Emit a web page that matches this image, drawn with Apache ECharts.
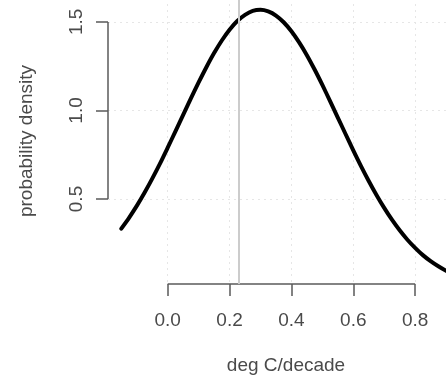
<!DOCTYPE html>
<html>
<head>
<meta charset="utf-8">
<script src="https://cdn.jsdelivr.net/npm/echarts@6/dist/echarts.min.js"></script>
<style>html,body{margin:0;padding:0;background:#fff}#c{width:446px;height:379px}</style>
</head>
<body>
<div id="c"></div>
<script>
// data
var xValues = [-0.150,-0.125,-0.100,-0.075,-0.050,-0.025,0.000,0.025,0.050,0.075,0.100,0.125,0.150,0.175,0.200,0.225,0.250,0.275,0.300,0.325,0.350,0.375,0.400,0.425,0.450,0.475,0.500,0.525,0.550,0.575,0.600,0.625,0.650,0.675,0.700,0.725,0.750,0.775,0.800,0.825,0.850,0.875,0.900,0.925,0.950];
var density = [0.333,0.394,0.461,0.535,0.615,0.700,0.790,0.882,0.975,1.068,1.158,1.244,1.324,1.395,1.456,1.505,1.540,1.562,1.568,1.559,1.536,1.498,1.447,1.384,1.312,1.231,1.144,1.053,0.960,0.867,0.775,0.686,0.602,0.523,0.450,0.383,0.323,0.270,0.224,0.183,0.149,0.120,0.095,0.075,0.059];
var xTicks = [0.0,0.2,0.4,0.6,0.8];
var yTicks = [0.5,1.0,1.5];
var refLine = 0.227;
var xLabel = 'deg C/decade';
var yLabel = 'probability density';

var xMin = -0.193, xMax = 0.958, yMin = 0.02, yMax = 1.635;
var axisColor = '#5a5a5a', textColor = '#4a4a4a', font = 'Liberation Sans, Arial, sans-serif';

var chart = echarts.init(document.getElementById('c'));
chart.setOption({
  animation: false,
  grid: {left: 108, width: 356, top: -2, bottom: 95, containLabel: false, outerBoundsMode: 'none'},
  xAxis: {
    type: 'value', min: xMin, max: xMax,
    axisLine: {show: false, onZero: false},
    axisTick: {show: true, customValues: xTicks, length: 12, lineStyle: {color: axisColor, width: 1.5}},
    axisLabel: {show: true, customValues: xTicks, margin: 27, color: textColor, fontSize: 19, fontFamily: font,
      formatter: function(v){return v.toFixed(1);}},
    splitLine: {show: true, lineStyle: {color: '#e6e6e6', type: [2,4], width: 1}},
    name: xLabel, nameLocation: 'middle', nameGap: 72,
    nameTextStyle: {color: textColor, fontSize: 19, fontFamily: font}
  },
  yAxis: {
    type: 'value', min: yMin, max: yMax,
    axisLine: {show: false, onZero: false},
    axisTick: {show: true, customValues: yTicks, length: 12, lineStyle: {color: axisColor, width: 1.5}},
    axisLabel: {show: true, customValues: yTicks, rotate: 90, margin: 22, color: textColor, fontSize: 19, fontFamily: font,
      formatter: function(v){return v.toFixed(1);}},
    splitLine: {show: true, lineStyle: {color: '#e6e6e6', type: [2,4], width: 1}},
    name: yLabel, nameLocation: 'middle', nameGap: 72, nameRotate: 90,
    nameTextStyle: {color: textColor, fontSize: 19, fontFamily: font}
  },
  series: [
    {
      type: 'line', data: [], silent: true,
      markLine: {
        silent: true, symbol: 'none', animation: false, label: {show: false},
        data: [
          [{coord: [xTicks[0], yMin]}, {coord: [xTicks[xTicks.length-1], yMin]}],
          [{coord: [xMin, yTicks[0]]}, {coord: [xMin, yTicks[yTicks.length-1]]}]
        ],
        lineStyle: {color: axisColor, width: 1.5, type: 'solid'}
      }
    },
    {
      type: 'line', data: [], silent: true,
      markLine: {
        silent: true, symbol: 'none', animation: false, label: {show: false},
        data: [{xAxis: refLine}],
        lineStyle: {color: '#cccccc', width: 2, type: 'solid'}
      }
    },
    {
      type: 'line', smooth: 0.3, showSymbol: false, silent: true,
      data: xValues.map(function(x, i){return [x, density[i]];}),
      lineStyle: {color: '#000', width: 4, cap: 'round', join: 'round'}
    }
  ]
});
</script>
</body>
</html>
